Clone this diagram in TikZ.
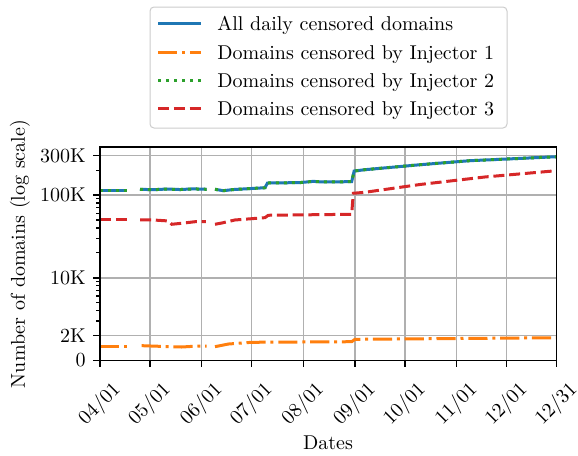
\documentclass[tikz,border=0pt]{standalone}
\usetikzlibrary{positioning}
\definecolor{tabblue}{HTML}{1F77B4}
\definecolor{taborange}{HTML}{FF7F0E}
\definecolor{tabgreen}{HTML}{2CA02C}
\definecolor{tabred}{HTML}{D62728}
\definecolor{gridgray}{HTML}{B0B0B0}
\definecolor{legendgray}{HTML}{CCCCCC}
\begin{document}
\begin{tikzpicture}[x=0.5pt,y=-0.5pt,
    alldaily/.style={tabblue,line width=1.5pt},
    injone/.style={taborange,line width=1.5pt,dash pattern=on 9.6pt off 2.4pt on 1.5pt off 2.4pt},
    injtwo/.style={tabgreen,line width=1.5pt,dash pattern=on 1.5pt off 2.5pt},
    injthree/.style={tabred,line width=1.5pt,dash pattern=on 5.5pt off 2.4pt},
    gridline/.style={gridgray,line width=0.8pt},
    legtext/.style={anchor=base west,inner sep=0pt}]
  \useasboundingbox (0,0) rectangle (578,455);

  % legend
  \draw [legendgray,line width=0.5pt,rounded corners=2pt,fill=white] (150,7) rectangle (507,128);
  \coordinate (lega) at (158,23.5);
  \coordinate (legb) at (158,52);
  \coordinate (legc) at (158,80);
  \coordinate (legd) at (158,108);
  \draw [alldaily] (lega) -- ++(43,0) coordinate (legae);
  \draw [injone] (legb) -- ++(43,0) coordinate (legbe);
  \draw [injtwo] (legc) -- ++(43,0) coordinate (legce);
  \draw [injthree] (legd) -- ++(43,0) coordinate (legde);
  \node [legtext] (legall) at ([xshift=8pt,yshift=-3.6pt]legae) {All daily censored domains};
  \node [legtext] (legone) at ([xshift=8pt,yshift=-3.6pt]legbe) {Domains censored by Injector 1};
  \node [legtext] (legtwo) at ([xshift=8pt,yshift=-3.6pt]legce) {Domains censored by Injector 2};
  \node [legtext] (legthree) at ([xshift=8pt,yshift=-3.6pt]legde) {Domains censored by Injector 3};

  % axes: x in days from 04/01, y in log10 of thousands
  \begin{scope}[shift={(100,360.4)},x=0.8333pt,y=41.35pt]
    \foreach \d/\m/\dd in {0/04/01,30/05/01,61/06/01,91/07/01,122/08/01,153/09/01,183/10/01,214/11/01,244/12/01,274/12/31}{
      \draw [gridline] (\d,0) -- (\d,2.58);
      \draw [line width=0.8pt] (\d,0) -- ++(0,-3.5pt);
      \node [rotate=45,inner sep=0pt] (date\d) at ([xshift=0pt,yshift=-22pt]\d,0) {\m/\dd};
    }
    \foreach \v/\lab in {1/0,2/2K,10/10K,100/100K,300/300K}{
      \draw [gridline] (0,{log10(\v)}) -- (274,{log10(\v)});
      \draw [line width=0.8pt] (0,{log10(\v)}) -- ++(-3.5pt,0);
      \node [anchor=east,inner sep=0pt] (tick\v) at ([xshift=-7pt]0,{log10(\v)}) {\lab};
    }
    \foreach \v in {3,4,5,6,7,8,9,20,30,40,50,60,70,80,90,200}
      \draw [line width=0.6pt] (0,{log10(\v)}) -- ++(-2pt,0);

    % Injector 3
    \draw [injthree] (0,1.698) -- (16,1.698);
    \draw [injthree] (24,1.698) -- (32,1.698) -- (41,1.686) -- (43,1.646) -- (49,1.658) -- (57,1.677) -- (63.5,1.677);
    \draw [injthree] (69,1.646) -- (73,1.661) -- (81,1.698) -- (99,1.726) -- (101,1.755) -- (151,1.767)
      -- (152,2.021) -- (159,2.033) -- (192,2.127) -- (231,2.218) -- (274,2.294);
    % Injector 1
    \draw [injone] (0,0.174) -- (16,0.174);
    \draw [injone] (25,0.178) -- (42,0.166) -- (49,0.162) -- (59,0.174) -- (64,0.174);
    \draw [injone] (69,0.166) -- (77,0.198) -- (91,0.219) -- (151,0.226) -- (153,0.255) -- (274,0.274);
    % all daily, Injector 2 on top
    \foreach \sty in {alldaily,injtwo}{
      \draw [\sty] (0,2.052) -- (16,2.052);
      \draw [\sty] (24,2.069) -- (32,2.064) -- (40,2.072) -- (48,2.066) -- (56,2.074) -- (64,2.069);
      \draw [\sty] (69,2.069) -- (74,2.052) -- (80,2.066) -- (99,2.088) -- (100.5,2.145) -- (120,2.150)
        -- (128,2.165) -- (133,2.158) -- (151,2.161) -- (152.5,2.290) -- (159,2.306) -- (192,2.366)
        -- (222,2.415) -- (231,2.423) -- (274,2.463);
    }

    \draw [line width=0.8pt] (0,0) rectangle (274,2.58);
  \end{scope}

  \node (xlab) at (328,443) {Dates};
  \node [rotate=90] (ylab) at (20,254) {Number of domains (log scale)};
\end{tikzpicture}
\end{document}
